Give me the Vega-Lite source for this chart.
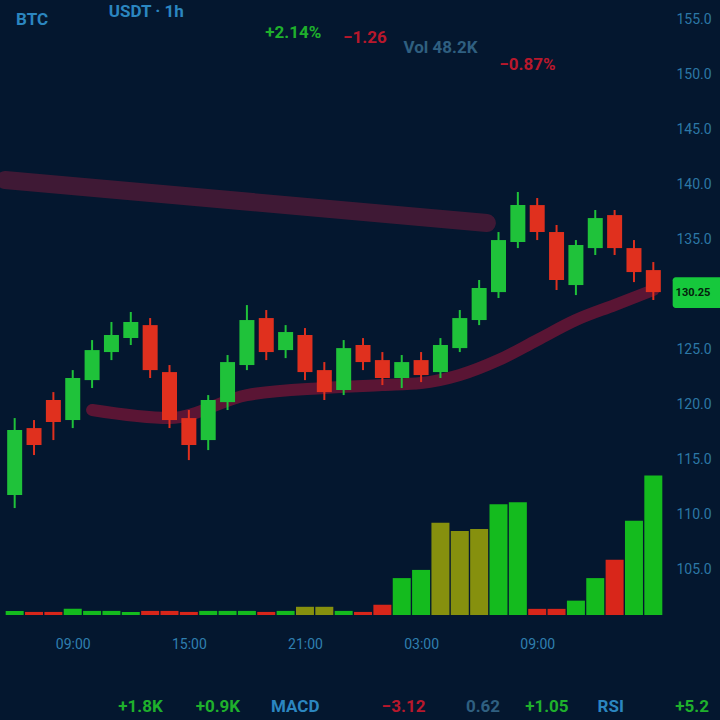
{
  "$schema": "https://vega.github.io/schema/vega-lite/v6.json",
  "autosize": {"type": "none"},
  "width": 668,
  "height": 615,
  "padding": {"left": 0, "top": 0, "right": 52, "bottom": 105},
  "background": "#04172f",
  "config": {
    "view": {"stroke": null},
    "font": "Roboto"
  },
  "datasets": {
    "candles": [
      {"i": 0, "o": 111.8, "h": 118.8, "l": 110.62, "c": 117.71},
      {"i": 1, "o": 117.89, "h": 118.62, "l": 115.44, "c": 116.35},
      {"i": 2, "o": 120.44, "h": 121.16, "l": 116.8, "c": 118.44},
      {"i": 3, "o": 118.62, "h": 123.16, "l": 117.89, "c": 122.44},
      {"i": 4, "o": 122.25, "h": 125.89, "l": 121.53, "c": 124.98},
      {"i": 5, "o": 124.8, "h": 127.53, "l": 124.07, "c": 126.35},
      {"i": 6, "o": 126.07, "h": 128.44, "l": 125.44, "c": 127.53},
      {"i": 7, "o": 127.25, "h": 127.89, "l": 122.44, "c": 123.16},
      {"i": 8, "o": 122.98, "h": 123.62, "l": 117.89, "c": 118.62},
      {"i": 9, "o": 118.8, "h": 119.53, "l": 114.98, "c": 116.35},
      {"i": 10, "o": 116.8, "h": 120.89, "l": 115.89, "c": 120.44},
      {"i": 11, "o": 120.25, "h": 124.53, "l": 119.53, "c": 123.89},
      {"i": 12, "o": 123.62, "h": 129.07, "l": 123.16, "c": 127.71},
      {"i": 13, "o": 127.89, "h": 128.62, "l": 124.07, "c": 124.8},
      {"i": 14, "o": 124.98, "h": 127.25, "l": 124.25, "c": 126.62},
      {"i": 15, "o": 126.35, "h": 126.98, "l": 122.25, "c": 122.98},
      {"i": 16, "o": 123.16, "h": 123.89, "l": 120.44, "c": 121.16},
      {"i": 17, "o": 121.35, "h": 125.89, "l": 120.89, "c": 125.16},
      {"i": 18, "o": 125.44, "h": 126.07, "l": 123.16, "c": 123.89},
      {"i": 19, "o": 124.07, "h": 124.8, "l": 121.8, "c": 122.44},
      {"i": 20, "o": 122.44, "h": 124.53, "l": 121.53, "c": 123.89},
      {"i": 21, "o": 124.07, "h": 124.8, "l": 122.07, "c": 122.71},
      {"i": 22, "o": 122.98, "h": 126.07, "l": 122.44, "c": 125.44},
      {"i": 23, "o": 125.16, "h": 128.62, "l": 124.8, "c": 127.89},
      {"i": 24, "o": 127.71, "h": 131.35, "l": 127.25, "c": 130.62},
      {"i": 25, "o": 130.25, "h": 135.71, "l": 129.71, "c": 134.98},
      {"i": 26, "o": 134.8, "h": 139.35, "l": 134.25, "c": 138.16},
      {"i": 27, "o": 138.16, "h": 138.8, "l": 134.98, "c": 135.71},
      {"i": 28, "o": 135.71, "h": 136.35, "l": 130.44, "c": 131.35},
      {"i": 29, "o": 130.89, "h": 134.98, "l": 129.98, "c": 134.53},
      {"i": 30, "o": 134.25, "h": 137.71, "l": 133.62, "c": 136.98},
      {"i": 31, "o": 137.25, "h": 137.71, "l": 133.62, "c": 134.25},
      {"i": 32, "o": 134.25, "h": 134.98, "l": 131.16, "c": 132.07},
      {"i": 33, "o": 132.25, "h": 132.98, "l": 129.53, "c": 130.25}
    ],
    "volume": [
      {"i": 0, "v": 2, "s": "buy"}, {"i": 1, "v": 1.5, "s": "sell"}, {"i": 2, "v": 1.5, "s": "sell"},
      {"i": 3, "v": 3, "s": "buy"}, {"i": 4, "v": 2, "s": "buy"}, {"i": 5, "v": 2, "s": "buy"},
      {"i": 6, "v": 1.5, "s": "buy"}, {"i": 7, "v": 2, "s": "sell"}, {"i": 8, "v": 2, "s": "sell"},
      {"i": 9, "v": 1.5, "s": "sell"}, {"i": 10, "v": 2, "s": "buy"}, {"i": 11, "v": 2, "s": "buy"},
      {"i": 12, "v": 2, "s": "buy"}, {"i": 13, "v": 1.5, "s": "sell"}, {"i": 14, "v": 2, "s": "buy"},
      {"i": 15, "v": 4, "s": "mixed"}, {"i": 16, "v": 4, "s": "mixed"}, {"i": 17, "v": 2, "s": "buy"},
      {"i": 18, "v": 1.5, "s": "sell"}, {"i": 19, "v": 5, "s": "sell"}, {"i": 20, "v": 18, "s": "buy"},
      {"i": 21, "v": 22, "s": "buy"}, {"i": 22, "v": 45, "s": "mixed"}, {"i": 23, "v": 41, "s": "mixed"},
      {"i": 24, "v": 42, "s": "mixed"}, {"i": 25, "v": 54, "s": "buy"}, {"i": 26, "v": 55, "s": "buy"},
      {"i": 27, "v": 3, "s": "sell"}, {"i": 28, "v": 3, "s": "sell"}, {"i": 29, "v": 7, "s": "buy"},
      {"i": 30, "v": 18, "s": "buy"}, {"i": 31, "v": 27, "s": "sell"}, {"i": 32, "v": 46, "s": "buy"},
      {"i": 33, "v": 68, "s": "buy"}
    ],
    "ma": [
      {"i": 4, "p": 119.53}, {"i": 8, "p": 118.8}, {"i": 12, "p": 120.89}, {"i": 16, "p": 121.53},
      {"i": 19, "p": 121.8}, {"i": 21, "p": 121.98}, {"i": 23, "p": 122.71}, {"i": 25, "p": 124.07},
      {"i": 27, "p": 125.89}, {"i": 29, "p": 127.71}, {"i": 31, "p": 129.07}, {"i": 33, "p": 130.44}
    ],
    "level": [
      {"i": -0.5, "p": 140.44}, {"i": 24.4, "p": 136.53}
    ],
    "labels": [
      {"i": 0.9, "p": 155.0, "t": "BTC", "k": "info"},
      {"i": 6.8, "p": 155.7, "t": "USDT · 1h", "k": "info"},
      {"i": 14.4, "p": 153.8, "t": "+2.14%", "k": "up"},
      {"i": 18.1, "p": 153.35, "t": "−1.26", "k": "down"},
      {"i": 22.0, "p": 152.45, "t": "Vol 48.2K", "k": "muted"},
      {"i": 26.5, "p": 150.9, "t": "−0.87%", "k": "down"},
      {"i": 6.5, "p": 92.5, "t": "+1.8K", "k": "up"},
      {"i": 10.5, "p": 92.5, "t": "+0.9K", "k": "up"},
      {"i": 14.5, "p": 92.5, "t": "MACD", "k": "info"},
      {"i": 20.1, "p": 92.5, "t": "−3.12", "k": "down"},
      {"i": 24.2, "p": 92.5, "t": "0.62", "k": "muted"},
      {"i": 27.5, "p": 92.5, "t": "+1.05", "k": "up"},
      {"i": 30.8, "p": 92.5, "t": "RSI", "k": "info"},
      {"i": 35.0, "p": 92.5, "t": "+5.2", "k": "up"}
    ],
    "tag": [
      {"i1": 34.0, "i2": 37.0, "p1": 131.6, "p2": 128.8, "i": 35.05, "p": 130.2, "t": "130.25"}
    ]
  },
  "encoding": {
    "x": {
      "field": "i", "type": "quantitative",
      "scale": {"domain": [-0.5, 33.5], "nice": false, "zero": false},
      "axis": {
        "values": [3, 9, 15, 21, 27],
        "labelExpr": "pad((6 + datum.value) % 24, 2, '0', 'left') + ':00'",
        "title": null, "domain": false, "ticks": false, "grid": false,
        "labelColor": "#2f7fb0", "labelFontSize": 14, "labelPadding": 22
      }
    }
  },
  "layer": [
    {
      "layer": [
        {
          "data": {"name": "level"},
          "mark": {"type": "line", "color": "#4a1a36", "strokeWidth": 18, "opacity": 0.85, "strokeCap": "round"},
          "encoding": {
            "y": {"field": "p", "type": "quantitative",
                  "scale": {"domain": [100.9, 156.8], "nice": false, "zero": false},
                  "axis": {"orient": "right", "values": [105, 110, 115, 120, 125, 135, 140, 145, 150, 155],
                           "format": ".1f", "title": null, "domain": false, "ticks": false, "grid": false,
                           "labelColor": "#2c78a6", "labelFontSize": 14, "labelPadding": 8}}
          }
        },
        {
          "data": {"name": "ma"},
          "mark": {"type": "line", "color": "#6a1535", "strokeWidth": 12, "opacity": 0.85, "interpolate": "monotone", "strokeCap": "round"},
          "encoding": {"y": {"field": "p", "type": "quantitative"}}
        },
        {
          "data": {"name": "candles"},
          "mark": {"type": "rule", "strokeWidth": 2},
          "encoding": {
            "y": {"field": "l", "type": "quantitative"},
            "y2": {"field": "h"},
            "color": {"condition": {"test": "datum.c >= datum.o", "value": "#1fc23a"}, "value": "#e0301e"}
          }
        },
        {
          "data": {"name": "candles"},
          "mark": {"type": "bar", "size": 15},
          "encoding": {
            "y": {"field": "o", "type": "quantitative"},
            "y2": {"field": "c"},
            "color": {"condition": {"test": "datum.c >= datum.o", "value": "#1fc23a"}, "value": "#e0301e"}
          }
        },
        {
          "data": {"name": "tag"},
          "mark": {"type": "rect", "color": "#16c83c", "cornerRadius": 3},
          "encoding": {
            "x": {"field": "i1", "type": "quantitative"},
            "x2": {"field": "i2"},
            "y": {"field": "p1", "type": "quantitative"},
            "y2": {"field": "p2"}
          }
        },
        {
          "data": {"name": "tag"},
          "mark": {"type": "text", "color": "#04210c", "fontSize": 11, "fontWeight": "bold", "align": "center", "baseline": "middle"},
          "encoding": {
            "y": {"field": "p", "type": "quantitative"},
            "text": {"field": "t"}
          }
        },
        {
          "data": {"name": "labels"},
          "mark": {"type": "text", "fontSize": 17, "fontWeight": "bold", "align": "center", "baseline": "middle"},
          "encoding": {
            "y": {"field": "p", "type": "quantitative"},
            "text": {"field": "t"},
            "color": {"field": "k", "type": "nominal", "legend": null,
                      "scale": {"domain": ["info", "up", "down", "muted"], "range": ["#2b86c0", "#1fb02c", "#b8182c", "#2f5f80"]}}
          }
        }
      ]
    },
    {
      "data": {"name": "volume"},
      "mark": {"type": "bar", "size": 18},
      "encoding": {
        "y": {"field": "v", "type": "quantitative", "scale": {"domain": [0, 300], "nice": false}, "axis": null},
        "color": {"field": "s", "type": "nominal", "legend": null,
                  "scale": {"domain": ["buy", "sell", "mixed"], "range": ["#14bb1e", "#d8261a", "#86900e"]}}
      }
    }
  ],
  "resolve": {"scale": {"y": "independent", "color": "independent"}}
}
